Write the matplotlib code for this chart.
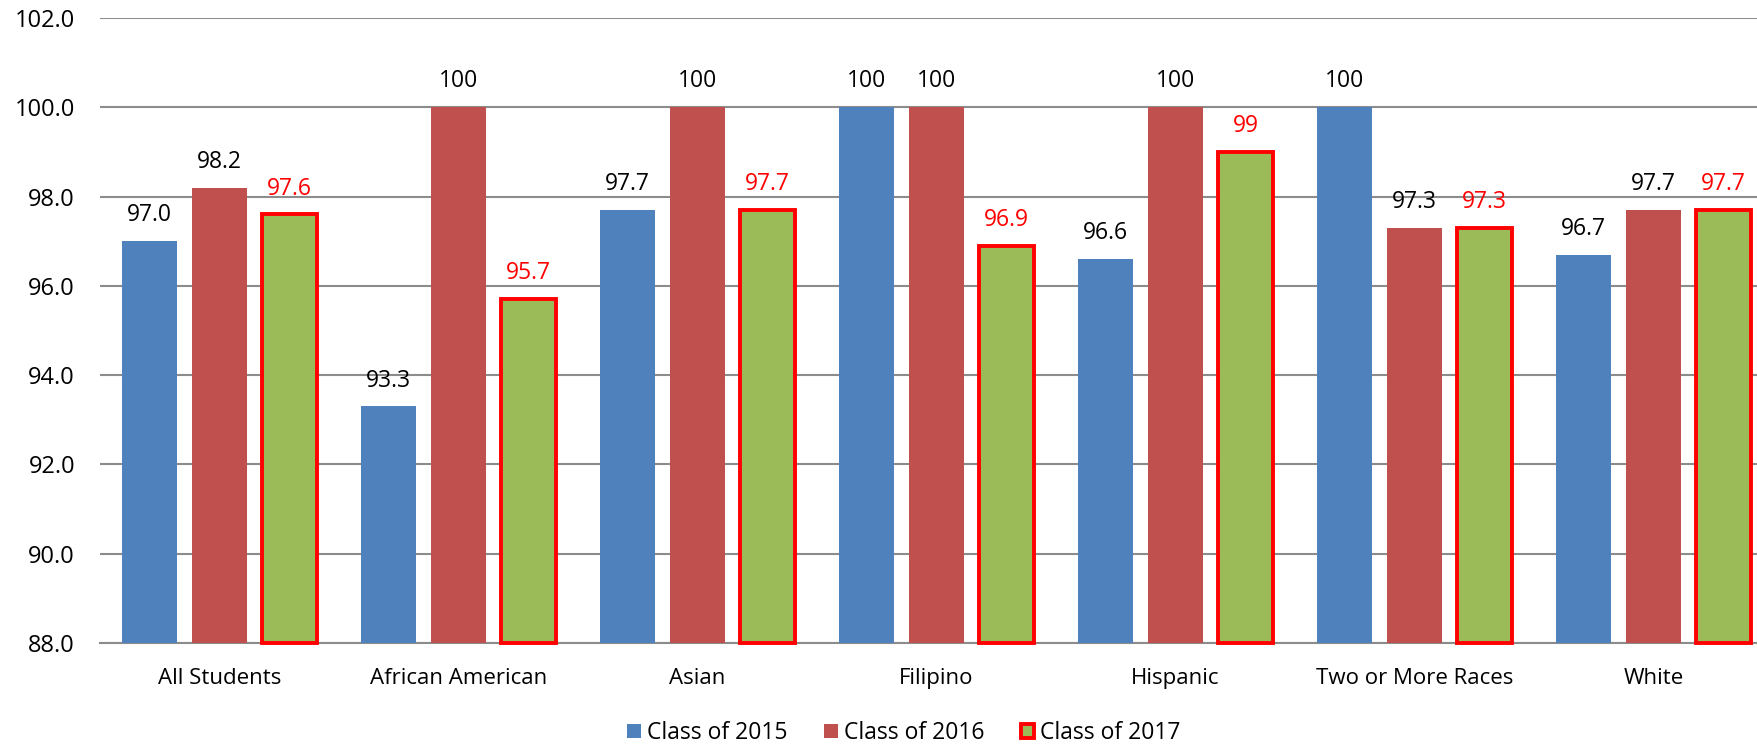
import matplotlib
matplotlib.use("Agg")
import matplotlib.pyplot as plt
import numpy as np

categories = ["All Students", "African American", "Asian", "Filipino",
              "Hispanic", "Two or More Races", "White"]
series_names = ["Class of 2015", "Class of 2016", "Class of 2017"]
class_2015 = [97.0, 93.3, 97.7, 100, 96.6, 100, 96.7]
class_2016 = [98.2, 100, 100, 100, 100, 97.3, 97.7]
class_2017 = [97.6, 95.7, 97.7, 96.9, 99, 97.3, 97.7]
labels_2015 = ["97.0", "93.3", "97.7", "100", "96.6", "100", "96.7"]
labels_2016 = ["98.2", "100", "100", "100", "100", "97.3", "97.7"]
labels_2017 = ["97.6", "95.7", "97.7", "96.9", "99", "97.3", "97.7"]
yticks = [88.0, 90.0, 92.0, 94.0, 96.0, 98.0, 100.0, 102.0]

plt.rcParams['font.family'] = ['Open Sans', 'DejaVu Sans']

W, H = 1757, 745
fig = plt.figure(figsize=(W / 100, H / 100), dpi=100)
ax = fig.add_axes([100 / W, 102 / H, (1773 - 100) / W, (727 - 102) / H])

x = np.arange(len(categories))
bw = 0.234
step = 0.293
colors = ["#4F81BD", "#C0504D", "#9BBB59"]
data = [class_2015, class_2016, class_2017]
labs = [labels_2015, labels_2016, labels_2017]

for i, (vals, lab) in enumerate(zip(data, labs)):
    off = (i - 1) * step
    if i == 2:
        ax.bar(x + off, np.array(vals) - 88, bw, bottom=88, color=colors[i],
               edgecolor="#FF0000", linewidth=2.8, zorder=3,
               label=series_names[i], clip_on=False)
        tc = "#FF0000"
    else:
        ax.bar(x + off, np.array(vals) - 88, bw, bottom=88, color=colors[i],
               zorder=3, label=series_names[i])
        tc = "black"
    for xi, v, t in zip(x + off, vals, lab):
        ax.annotate(t, (xi, v), xytext=(0, 10), textcoords="offset points",
                    ha="center", va="bottom", fontsize=16.5, color=tc)

ax.set_ylim(88, 102)
ax.set_xlim(-0.5, len(categories) - 0.5)
ax.set_yticks(yticks)
ax.set_yticklabels([f"{t:.1f}" for t in yticks])
ax.set_xticks(x)
ax.set_xticklabels(categories)
ax.tick_params(axis="y", length=0, pad=18, labelsize=17)
ax.tick_params(axis="x", length=0, pad=18, labelsize=16)
ax.yaxis.grid(True, color="#8C8C8C", linewidth=1.5, zorder=0)
ax.set_axisbelow(True)
for s in ["top", "right", "left"]:
    ax.spines[s].set_visible(False)
ax.spines["bottom"].set_color("#8C8C8C")
ax.spines["bottom"].set_linewidth(1.5)

fig.legend(loc="center", bbox_to_anchor=(904 / W, 1 - 733 / H), ncol=3,
           frameon=False, fontsize=16.5, handlelength=0.6, handleheight=0.6,
           handletextpad=0.25, columnspacing=1.6)
fig.savefig("out.png", dpi=100)
